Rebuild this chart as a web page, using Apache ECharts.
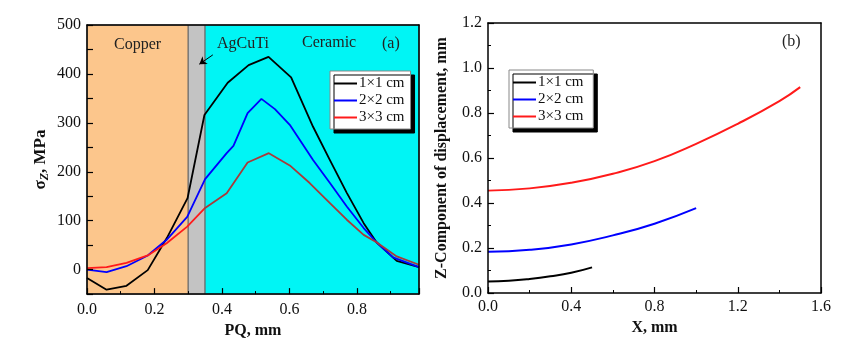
<!DOCTYPE html>
<html>
<head>
<meta charset="utf-8">
<script src="https://cdn.jsdelivr.net/npm/echarts@6/dist/echarts.min.js"></script>
<style>
  html, body { margin: 0; padding: 0; background: #fff; }
  #main { width: 841px; height: 344px; }
</style>
</head>
<body>
<div id="main"></div>
<script>
// (a) stress along PQ
var names = ['1×1 cm', '2×2 cm', '3×3 cm'];

var pq1 = [0, 0.058, 0.117, 0.18, 0.237, 0.298, 0.348, 0.417, 0.479, 0.538, 0.605, 0.67, 0.72, 0.77, 0.82, 0.858, 0.918, 0.984];
var sz1 = [-17, -41, -33, -1, 65, 146, 316, 382, 418, 435, 393, 292, 224, 157, 95, 56, 18, 5];

var pq2 = [0, 0.058, 0.117, 0.18, 0.236, 0.297, 0.35, 0.414, 0.434, 0.476, 0.517, 0.557, 0.601, 0.67, 0.72, 0.77, 0.82, 0.858, 0.907, 0.984];
var sz2 = [0, -5, 7, 29, 61, 108, 185, 238, 253, 320, 349, 328, 296, 224, 177, 129, 85, 56, 25, 5];

var pq3 = [0, 0.058, 0.117, 0.18, 0.236, 0.297, 0.35, 0.414, 0.476, 0.539, 0.601, 0.66, 0.72, 0.77, 0.82, 0.858, 0.918, 0.984];
var sz3 = [3, 5, 14, 29, 54, 88, 126, 156, 219, 238, 213, 177, 136, 102, 71, 56, 27, 10];

// material zones (mm)
var zones = [
  { name: 'Copper', from: 0, to: 0.3, color: '#fcc68c' },
  { name: 'AgCuTi', from: 0.3, to: 0.35, color: '#c3c3c3' },
  { name: 'Ceramic', from: 0.35, to: 0.984, color: '#00f5f5' }
];

// (b) Z displacement along X
var xb1 = [0, 0.1, 0.2, 0.3, 0.4, 0.5];
var zb1 = [0.051, 0.054, 0.062, 0.074, 0.09, 0.114];
var xb2 = [0, 0.2, 0.4, 0.6, 0.8, 1.0];
var zb2 = [0.183, 0.192, 0.216, 0.256, 0.308, 0.377];
var xb3 = [0, 0.2, 0.4, 0.6, 0.8, 1.0, 1.2, 1.4, 1.5];
var zb3 = [0.455, 0.465, 0.49, 0.53, 0.586, 0.663, 0.752, 0.853, 0.915];

var colors = ['#000000', '#0000ff', '#ff1a1a'];

function pairs(xs, ys) {
  return xs.map(function (x, i) { return [x, ys[i]]; });
}

var font = 'Liberation Serif';
var myChart = echarts.init(document.getElementById('main'));

// red line looks darker over the ceramic part
var redSplit = 0.35 / pq3[pq3.length - 1];
var redA = new echarts.graphic.LinearGradient(0, 0, 1, 0, [
  { offset: 0, color: '#ff1a1a' }, { offset: redSplit, color: '#ff1a1a' },
  { offset: redSplit, color: '#a83a3a' }, { offset: 1, color: '#a83a3a' }
]);

function frameAxis(pos, gi, min, max) {
  return {
    type: 'value', gridIndex: gi, position: pos, min: min, max: max, z: 10,
    axisLine: { show: true, onZero: false, lineStyle: { color: '#000', width: 1.5 } },
    axisTick: { show: false }, axisLabel: { show: false }, splitLine: { show: false }
  };
}

var tickStyle = {
  axisLine: { show: true, onZero: false, lineStyle: { color: '#000', width: 1.5 } },
  axisTick: { show: true, inside: true, length: 6, lineStyle: { color: '#000', width: 1.2 } },
  minorTick: { show: true, splitNumber: 2, length: 3, lineStyle: { color: '#000', width: 1 } },
  splitLine: { show: false },
  axisLabel: { color: '#111', fontFamily: font, fontSize: 16, margin: 6,
    formatter: function (v) { return v.toFixed(1); } }
};

function legendData(suffix) {
  return names.map(function (n, i) {
    return { name: n + suffix, itemStyle: { color: colors[i] } };
  });
}

var legendBase = {
  orient: 'vertical', icon: 'rect',
  padding: [5, 6, 4, 4], itemGap: 2, itemWidth: 23, itemHeight: 2,
  backgroundColor: '#fff', borderColor: '#888', borderWidth: 1,
  shadowColor: '#000', shadowBlur: 0, shadowOffsetX: 4, shadowOffsetY: 4,
  textStyle: { fontFamily: font, fontSize: 15, color: '#111', padding: [0, 0, 0, -3] },
  selectedMode: false
};

var option = {
  animation: false,
  backgroundColor: '#fff',
  grid: [
    { left: 87, top: 25, width: 332, height: 270 },
    { left: 488, top: 23, width: 333, height: 270 }
  ],
  xAxis: [
    Object.assign({}, tickStyle, {
      type: 'value', gridIndex: 0, min: 0, max: 0.984, interval: 0.2, z: 10,
      axisLabel: Object.assign({}, tickStyle.axisLabel, { showMaxLabel: false, margin: 8 }),
      name: 'PQ, mm', nameLocation: 'middle', nameGap: 27,
      nameTextStyle: { fontFamily: font, fontSize: 16, fontWeight: 'bold', color: '#111' }
    }),
    frameAxis('top', 0, 0, 0.984),
    Object.assign({}, tickStyle, {
      type: 'value', gridIndex: 1, min: 0, max: 1.6, interval: 0.4, z: 10,
      name: 'X, mm', nameLocation: 'middle', nameGap: 24,
      nameTextStyle: { fontFamily: font, fontSize: 16, fontWeight: 'bold', color: '#111' }
    }),
    frameAxis('top', 1, 0, 1.6)
  ],
  yAxis: [
    Object.assign({}, tickStyle, {
      type: 'value', gridIndex: 0, min: -50, max: 500, interval: 50, z: 10,
      minorTick: { show: false },
      axisLabel: Object.assign({}, tickStyle.axisLabel, {
        formatter: function (v) { return v % 100 === 0 ? String(v) : ''; } }),
      name: 'σ{sub|Z}, MPa', nameLocation: 'middle', nameGap: 36,
      nameTextStyle: { fontFamily: font, fontSize: 17, fontWeight: 'bold', color: '#111',
        rich: { sub: { fontFamily: font, fontSize: 12, fontWeight: 'bold', fontStyle: 'italic',
          color: '#111', padding: [8, 0, 0, 0] } } }
    }),
    frameAxis('right', 0, -50, 500),
    Object.assign({}, tickStyle, {
      type: 'value', gridIndex: 1, min: 0, max: 1.2, interval: 0.2, z: 10,
      name: 'Z-Component of displacement, mm', nameLocation: 'middle', nameGap: 38,
      nameTextStyle: { fontFamily: font, fontSize: 16, fontWeight: 'bold', color: '#111' }
    }),
    frameAxis('right', 1, 0, 1.2)
  ],
  legend: [
    Object.assign({}, legendBase, { data: legendData(''), left: 330, top: 71 }),
    Object.assign({}, legendBase, { data: legendData(' '), left: 509, top: 70 })
  ],
  graphic: [
    { type: 'text', left: 114, top: 37, z: 20, style: { text: 'Copper', font: '16px "Liberation Serif"', fill: '#222' } },
    { type: 'text', left: 217, top: 36, z: 20, style: { text: 'AgCuTi', font: '16px "Liberation Serif"', fill: '#222' } },
    { type: 'text', left: 302, top: 35, z: 20, style: { text: 'Ceramic', font: '16px "Liberation Serif"', fill: '#222' } },
    { type: 'text', left: 382, top: 36, z: 20, style: { text: '(a)', font: '16px "Liberation Serif"', fill: '#222' } },
    { type: 'text', left: 782, top: 34, z: 20, style: { text: '(b)', font: '16px "Liberation Serif"', fill: '#222' } }
  ],
  series: [
    {
      // background zones + arrow
      type: 'line', xAxisIndex: 0, yAxisIndex: 0, z: 1, silent: true,
      data: [[0, 0]], symbol: 'none', lineStyle: { opacity: 0 },
      markArea: {
        silent: true,
        data: zones.map(function (zn) {
          return [{ xAxis: zn.from, itemStyle: { color: zn.color, borderColor: '#666', borderWidth: 1 } },
                  { xAxis: zn.to }];
        })
      },
      markLine: {
        silent: true, symbol: ['none', 'arrow'], symbolSize: 7,
        lineStyle: { color: '#000', width: 1, type: 'solid' }, label: { show: false },
        data: [[{ coord: [0.373, 439] }, { coord: [0.333, 420] }]]
      }
    },
    { name: names[0], type: 'line', xAxisIndex: 0, yAxisIndex: 0, z: 3, symbol: 'none',
      data: pairs(pq1, sz1), lineStyle: { color: colors[0], width: 1.8 }, itemStyle: { color: colors[0] } },
    { name: names[1], type: 'line', xAxisIndex: 0, yAxisIndex: 0, z: 3, symbol: 'none',
      data: pairs(pq2, sz2), lineStyle: { color: colors[1], width: 1.8 }, itemStyle: { color: colors[1] } },
    { name: names[2], type: 'line', xAxisIndex: 0, yAxisIndex: 0, z: 3, symbol: 'none',
      data: pairs(pq3, sz3), lineStyle: { color: redA, width: 1.8 }, itemStyle: { color: colors[2] } },

    { name: names[0] + ' ', type: 'line', xAxisIndex: 2, yAxisIndex: 2, symbol: 'none', smooth: true,
      data: pairs(xb1, zb1), lineStyle: { color: colors[0], width: 2 }, itemStyle: { color: colors[0] } },
    { name: names[1] + ' ', type: 'line', xAxisIndex: 2, yAxisIndex: 2, symbol: 'none', smooth: true,
      data: pairs(xb2, zb2), lineStyle: { color: colors[1], width: 2 }, itemStyle: { color: colors[1] } },
    { name: names[2] + ' ', type: 'line', xAxisIndex: 2, yAxisIndex: 2, symbol: 'none', smooth: true,
      data: pairs(xb3, zb3), lineStyle: { color: colors[2], width: 2 }, itemStyle: { color: colors[2] } }
  ]
};

myChart.setOption(option);
</script>
</body>
</html>
